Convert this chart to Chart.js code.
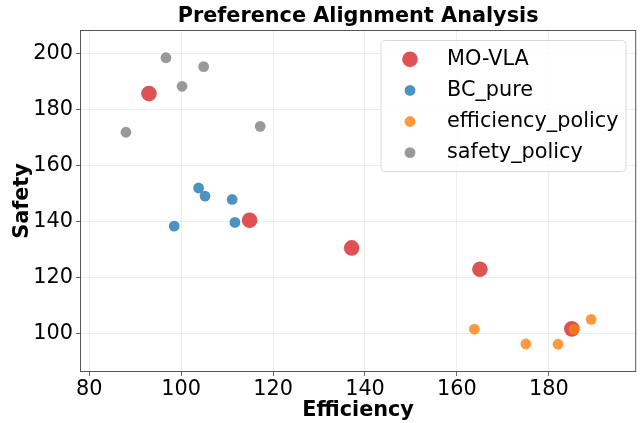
<!DOCTYPE html>
<html>
<head>
<meta charset="utf-8">
<script src="https://cdn.jsdelivr.net/npm/chart.js@4"></script>
<style>
html,body{margin:0;padding:0;background:#fff;}
#wrap{width:644px;height:423px;position:relative;}
</style>
</head>
<body>
<div id="wrap"><canvas id="c" width="644" height="423"></canvas></div>
<script>
// ---- data ----
const chartTitle = "Preference Alignment Analysis";
const xTitle = "Efficiency";
const yTitle = "Safety";
const seriesNames = ["MO-VLA", "BC_pure", "efficiency_policy", "safety_policy"];

const moVlaX = [93.0, 114.9, 137.1, 165.0, 185.0];
const moVlaY = [185.6, 140.4, 130.5, 122.9, 101.6];

const bcPureX = [98.5, 103.8, 105.2, 111.1, 111.7];
const bcPureY = [138.3, 151.9, 149.0, 147.8, 139.6];

const effPolicyX = [163.8, 175.0, 182.0, 189.2, 185.5];
const effPolicyY = [101.5, 96.2, 96.1, 105.0, 101.4];

const safePolicyX = [96.7, 104.9, 100.2, 88.0, 117.2];
const safePolicyY = [198.4, 195.2, 188.2, 171.8, 173.9];

const xTicks = [80, 100, 120, 140, 160, 180];
const yTicks = [100, 120, 140, 160, 180, 200];

// ---- styles ----
const colors = ["rgba(214,39,40,0.8)", "rgba(31,119,180,0.8)", "rgba(255,127,14,0.8)", "rgba(127,127,127,0.8)"];
const radii = [7.8, 5.4, 5.4, 5.4];
const FONT = "'DejaVu Sans', sans-serif";
const FS = 20.8;

function pts(xs, ys){ return xs.map((x,i)=>({x:x, y:ys[i]})); }
const seriesData = [pts(moVlaX,moVlaY), pts(bcPureX,bcPureY), pts(effPolicyX,effPolicyY), pts(safePolicyX,safePolicyY)];

const datasets = seriesNames.map((n,i)=>({
  label: n,
  data: seriesData[i],
  backgroundColor: colors[i],
  borderColor: colors[i],
  borderWidth: 0,
  pointRadius: radii[i],
  pointHoverRadius: radii[i],
  order: seriesNames.length - i
}));

const framePlugin = {
  id: 'frame',
  afterDraw(chart){
    const {ctx, chartArea:a} = chart;
    ctx.save();
    ctx.strokeStyle = '#555';
    ctx.lineWidth = 1;
    ctx.strokeRect(a.left+0.5, a.top+0.5, a.right-a.left-1, a.bottom-a.top-1);
    // title
    ctx.fillStyle = '#000';
    ctx.font = "bold " + FS + "px " + FONT;
    ctx.textAlign = 'center';
    ctx.textBaseline = 'middle';
    ctx.fillText(chartTitle, (a.left+a.right)/2, 17);
    // legend
    const bx = 381, by = 40.5, bw = 245, bh = 131, r = 4;
    ctx.beginPath();
    ctx.moveTo(bx+r, by);
    ctx.arcTo(bx+bw, by, bx+bw, by+bh, r);
    ctx.arcTo(bx+bw, by+bh, bx, by+bh, r);
    ctx.arcTo(bx, by+bh, bx, by, r);
    ctx.arcTo(bx, by, bx+bw, by, r);
    ctx.closePath();
    ctx.fillStyle = 'rgba(255,255,255,0.8)';
    ctx.fill();
    ctx.strokeStyle = '#d9d9d9';
    ctx.lineWidth = 1;
    ctx.stroke();
    chart.data.datasets.forEach((ds,i)=>{
      const cy = 59.3 + i*31.1;
      ctx.beginPath();
      ctx.arc(410, cy, ds.pointRadius, 0, Math.PI*2);
      ctx.fillStyle = ds.backgroundColor;
      ctx.fill();
      ctx.fillStyle = '#000';
      ctx.font = FS + "px " + FONT;
      ctx.textAlign = 'left';
      ctx.textBaseline = 'middle';
      ctx.fillText(ds.label, 447, cy);
    });
    ctx.restore();
  }
};

new Chart(document.getElementById('c'), {
  type: 'scatter',
  data: { datasets: datasets },
  plugins: [framePlugin],
  options: {
    responsive: false,
    animation: false,
    devicePixelRatio: 1,
    layout: { padding: { top: 30, right: 7, left: 0, bottom: 0 } },
    plugins: {
      legend: { display: false },
      title: { display: false },
      tooltip: { enabled: false }
    },
    scales: {
      x: {
        type: 'linear',
        min: 78, max: 199,
        afterFit(s){ s.height = 51; },
        afterBuildTicks(s){ s.ticks = xTicks.map(v=>({value:v})); },
        border: { display: false },
        grid: { color: 'rgba(0,0,0,0.09)', borderDash: [2.5,2.5], tickBorderDash: [], tickColor: '#444', tickLength: 4, lineWidth: 0.8, drawTicks: true },
        ticks: { color: '#000', font: { family: FONT, size: FS }, padding: 1, autoSkip: false, maxRotation: 0 },
        title: { display: true, text: xTitle, color: '#000', font: { family: FONT, size: FS, weight: 'bold' }, padding: { top: 0, bottom: 0 } }
      },
      y: {
        type: 'linear',
        min: 86.2, max: 208.3,
        afterFit(s){ s.width = 80; },
        afterBuildTicks(s){ s.ticks = yTicks.map(v=>({value:v})); },
        border: { display: false },
        grid: { color: 'rgba(0,0,0,0.09)', borderDash: [2.5,2.5], tickBorderDash: [], tickColor: '#444', tickLength: 4, lineWidth: 0.8, drawTicks: true },
        ticks: { color: '#000', font: { family: FONT, size: FS }, padding: 3, autoSkip: false },
        title: { display: true, text: yTitle, color: '#000', font: { family: FONT, size: FS, weight: 'bold' }, padding: { top: 10, bottom: 0 } }
      }
    }
  }
});
</script>
</body>
</html>
